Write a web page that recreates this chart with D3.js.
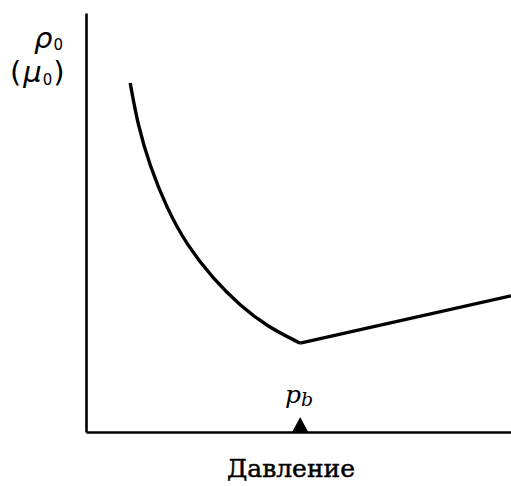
<!DOCTYPE html>
<html>
<head>
<meta charset="utf-8">
<script src="https://cdn.jsdelivr.net/npm/d3@7"></script>
<style>
  html, body { margin: 0; padding: 0; background: #fff; }
  svg { display: block; }
  .serif { font-family: "DejaVu Serif", "Liberation Serif", serif; }
  .sans { font-family: "DejaVu Sans", "Liberation Sans", sans-serif; }
</style>
</head>
<body>
<svg id="chart" width="511" height="486"></svg>
<script>
// Pressure (arbitrary units) and the reservoir-oil density/viscosity it produces
const pressureBelow = [1.04, 1.22, 1.5, 1.9, 2.38, 2.99, 3.62, 4.26, 5.04];
const valueBelow    = [8.33, 7.32, 6.36, 5.34, 4.45, 3.66, 3.02, 2.52, 2.12];
const pressureAbove = [5.04, 10.0];
const valueAbove    = [2.12, 3.25];
const bubblePoint   = 5.04;
const xTitle = "Давление";

const svg = d3.select("#chart");
const x = d3.scaleLinear().domain([0, 10]).range([86, 511]);
const y = d3.scaleLinear().domain([0, 10]).range([432, 13]);

// axes: bare lines with no ticks
svg.append("g")
  .attr("transform", `translate(0,${y(0)})`)
  .call(d3.axisBottom(x).tickValues([]).tickSizeOuter(0))
  .call(g => g.select(".domain").attr("stroke", "#000").attr("stroke-width", 2.6));
svg.append("g")
  .attr("transform", `translate(${x(0)},0)`)
  .call(d3.axisLeft(y).tickValues([]).tickSizeOuter(0))
  .call(g => g.select(".domain").attr("stroke", "#000").attr("stroke-width", 2.6));

// curve below the bubble point
const below = d3.zip(pressureBelow, valueBelow);
svg.append("path")
  .datum(below)
  .attr("fill", "none")
  .attr("stroke", "#000")
  .attr("stroke-width", 3.4)
  .attr("stroke-linejoin", "round")
  .attr("d", d3.line().x(d => x(d[0])).y(d => y(d[1])).curve(d3.curveBasis));

// straight rise above the bubble point
const above = d3.zip(pressureAbove, valueAbove);
svg.append("path")
  .datum(above)
  .attr("fill", "none")
  .attr("stroke", "#000")
  .attr("stroke-width", 3.4)
  .attr("d", d3.line().x(d => x(d[0])).y(d => y(d[1])));

// bubble-point marker on the pressure axis
const bx = x(bubblePoint), by = y(0);
svg.append("path")
  .attr("d", `M${bx - 8},${by} L${bx},${by - 15} L${bx + 8},${by} Z`)
  .attr("fill", "#000");
const pb = svg.append("text")
  .attr("class", "serif")
  .attr("x", bx - 1)
  .attr("y", by - 29)
  .attr("text-anchor", "middle")
  .style("font-style", "italic")
  .style("font-size", "25px")
  .attr("fill", "#000");
pb.append("tspan").text("p");
pb.append("tspan").style("font-size", "19px").attr("dy", 3).text("b");

// axis title
svg.append("text")
  .attr("class", "serif")
  .attr("x", 291)
  .attr("y", 477)
  .attr("text-anchor", "middle")
  .style("font-size", "25px")
  .attr("fill", "#000")
  .attr("stroke", "#000")
  .attr("stroke-width", 0.5)
  .text(xTitle);

// vertical axis label: ρ0 (μ0)
const l1 = svg.append("text")
  .attr("class", "sans")
  .attr("x", 34)
  .attr("y", 48)
  .style("font-style", "italic")
  .style("font-size", "29px")
  .attr("fill", "#000");
l1.append("tspan").text("ρ");
l1.append("tspan").style("font-size", "15px").style("font-style", "normal").attr("dx", 1).attr("dy", 2).text("0");

const l2 = svg.append("text")
  .attr("class", "sans")
  .attr("x", 10)
  .attr("y", 82)
  .style("font-size", "29px")
  .attr("fill", "#000");
l2.append("tspan").text("(");
l2.append("tspan").style("font-style", "italic").attr("dx", 2).text("μ");
l2.append("tspan").style("font-size", "15px").attr("dx", 1).attr("dy", 3).text("0");
l2.append("tspan").attr("dx", 1).attr("dy", -3).text(")");
</script>
</body>
</html>
